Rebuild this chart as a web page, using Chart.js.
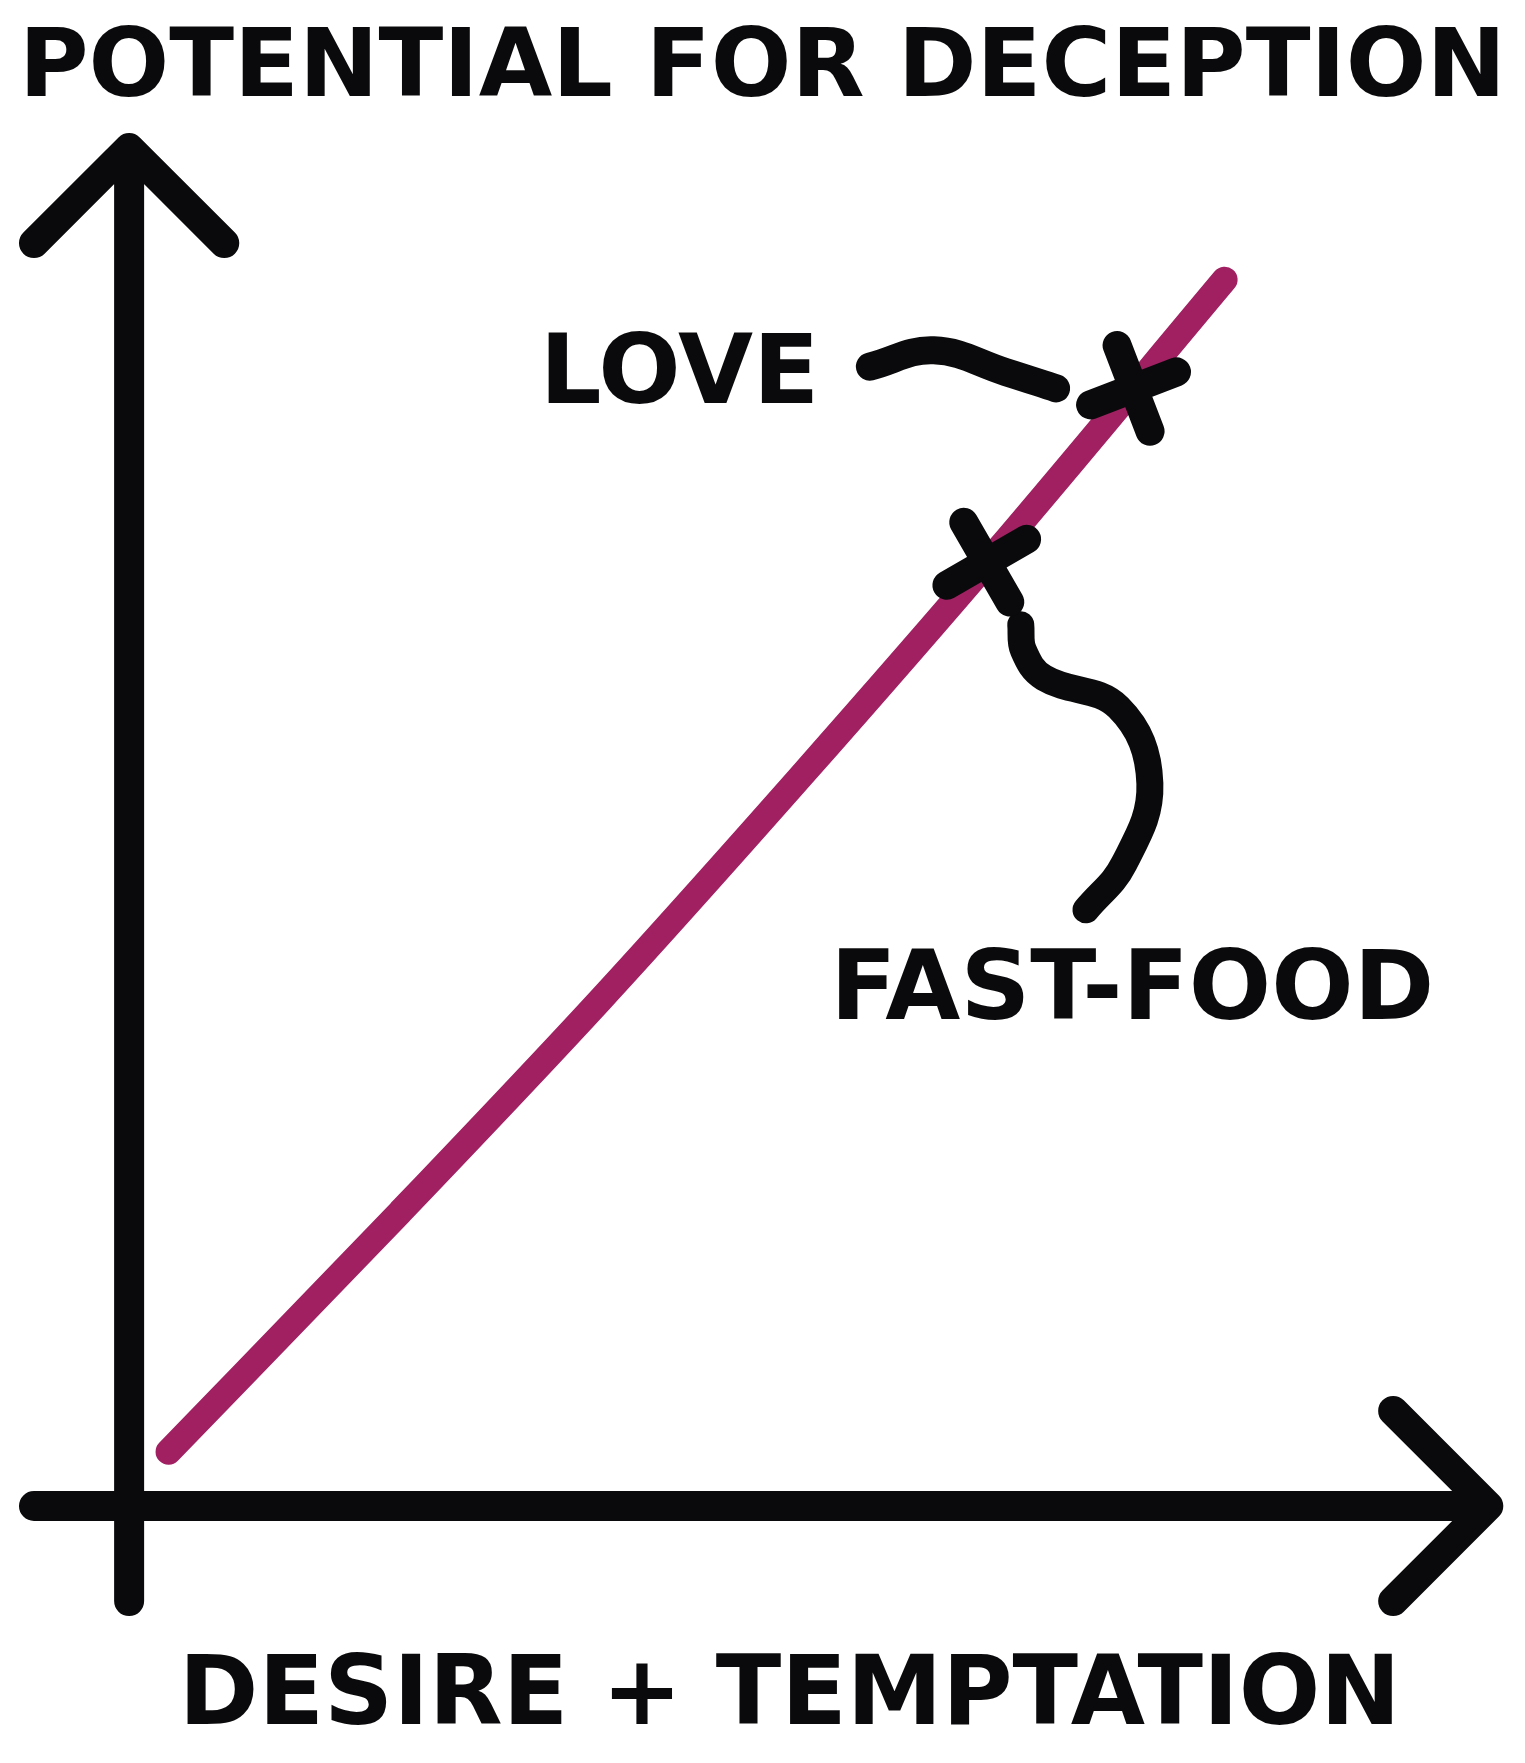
<!DOCTYPE html>
<html>
<head>
<meta charset="utf-8">
<title>Potential for deception</title>
<script src="https://cdn.jsdelivr.net/npm/chart.js@4.4.1/dist/chart.umd.min.js"></script>
<style>
    body { margin: 0; background: #fff; }
    #wrap { width: 1525px; height: 1763px; }
</style>
</head>
<body>
<div id="wrap"><canvas id="deceptionChart"></canvas></div>
<script>
// The magenta curve (0-100 on both axes)
const curveX = [2.9, 19.9, 34.7, 49.4, 64.1, 80.6];
const curveY = [4.0, 21.6, 37.3, 53.7, 70.6, 90.3];

// Crosses on the curve and their labels
const markerNames = ["LOVE", "FAST-FOOD"];
const markerX = [73.9, 63.1];
const markerY = [82.3, 69.5];
const markerTilt = [-21, -30];
const labelX = [40.5, 73.8];
const labelY = [83.1, 37.7];

// Axis caption, sits under the horizontal axis
const xCaption = "DESIRE + TEMPTATION";
const xCaptionAt = [48.6, -14.2];

// Hand drawn leader strokes from label to cross
const loveLeaderX = [54.5, 59.2, 64.5, 68.2];
const loveLeaderY = [83.9, 85.1, 83.5, 82.3];
const foodLeaderX = [65.6, 65.8, 67.3, 72.8, 75.1, 73.2, 70.4];
const foodLeaderY = [64.9, 63.0, 61.0, 58.8, 53.2, 47.3, 43.9];

const ink = "#0a0a0c";
const berry = "#a12062";
const font = "DejaVu Sans";

function toPoints(xs, ys) {
    return xs.map((x, i) => ({ x: x, y: ys[i] }));
}

// Axes with arrow heads, drawn through the chart's own scales
const arrowAxes = {
    id: "arrowAxes",
    beforeDatasetsDraw(chart) {
        const { ctx, scales: { x, y } } = chart;
        const px = v => x.getPixelForValue(v);
        const py = v => y.getPixelForValue(v);
        ctx.save();
        ctx.strokeStyle = ink;
        ctx.lineWidth = 30;
        ctx.lineCap = "round";
        ctx.lineJoin = "round";

        // vertical axis + head
        ctx.beginPath();
        ctx.moveTo(px(0), py(-7));
        ctx.lineTo(px(0), py(100));
        ctx.moveTo(px(-7), py(93));
        ctx.lineTo(px(0), py(100));
        ctx.lineTo(px(7), py(93));
        ctx.stroke();

        // horizontal axis + head
        ctx.beginPath();
        ctx.moveTo(px(-7), py(0));
        ctx.lineTo(px(100), py(0));
        ctx.moveTo(px(93), py(7));
        ctx.lineTo(px(100), py(0));
        ctx.lineTo(px(93), py(-7));
        ctx.stroke();
        ctx.restore();

        // round ends for the cross markers too
        ctx.lineCap = "round";
    },
    afterDatasetsDraw(chart) {
        const { ctx, scales: { x, y } } = chart;
        ctx.lineCap = "butt";
        ctx.save();
        ctx.fillStyle = ink;
        ctx.font = "bold 97px '" + font + "'";
        ctx.textAlign = "center";
        ctx.textBaseline = "middle";
        markerNames.forEach((name, i) => {
            ctx.fillText(name, x.getPixelForValue(labelX[i]), y.getPixelForValue(labelY[i]));
        });
        ctx.font = "bold 96px '" + font + "'";
        ctx.fillText(xCaption, x.getPixelForValue(xCaptionAt[0]), y.getPixelForValue(xCaptionAt[1]));
        ctx.restore();
    }
};

new Chart(document.getElementById("deceptionChart"), {
    type: "scatter",
    data: {
        datasets: [
            {
                label: "markers",
                data: toPoints(markerX, markerY),
                pointStyle: "cross",
                pointRadius: 46,
                pointRotation: markerTilt,
                borderColor: ink,
                borderWidth: 29,
                order: 0
            },
            {
                label: "love leader",
                data: toPoints(loveLeaderX, loveLeaderY),
                showLine: true,
                tension: 0.4,
                borderColor: ink,
                borderWidth: 28,
                borderCapStyle: "round",
                borderJoinStyle: "round",
                pointRadius: 0,
                order: 1
            },
            {
                label: "fast food leader",
                data: toPoints(foodLeaderX, foodLeaderY),
                showLine: true,
                tension: 0.4,
                borderColor: ink,
                borderWidth: 27,
                borderCapStyle: "round",
                borderJoinStyle: "round",
                pointRadius: 0,
                order: 2
            },
            {
                label: "deception",
                data: toPoints(curveX, curveY),
                showLine: true,
                cubicInterpolationMode: "monotone",
                borderColor: berry,
                borderWidth: 26,
                borderCapStyle: "round",
                pointRadius: 0,
                order: 3
            }
        ]
    },
    options: {
        responsive: true,
        maintainAspectRatio: false,
        animation: false,
        events: [],
        layout: { padding: { left: 0, right: 0, top: 0, bottom: 257 }, autoPadding: false },
        plugins: {
            legend: { display: false },
            tooltip: { enabled: false },
            title: {
                display: true,
                text: "POTENTIAL FOR DECEPTION",
                color: ink,
                font: { family: font, size: 95, weight: "bold", lineHeight: 1.2 },
                padding: { top: 14, bottom: 20 }
            }
        },
        scales: {
            x: {
                type: "linear",
                display: false,
                min: -9.5,
                max: 102.7
            },
            y: {
                type: "linear",
                display: false,
                min: 0,
                max: 100
            }
        }
    },
    plugins: [arrowAxes]
});
</script>
</body>
</html>
